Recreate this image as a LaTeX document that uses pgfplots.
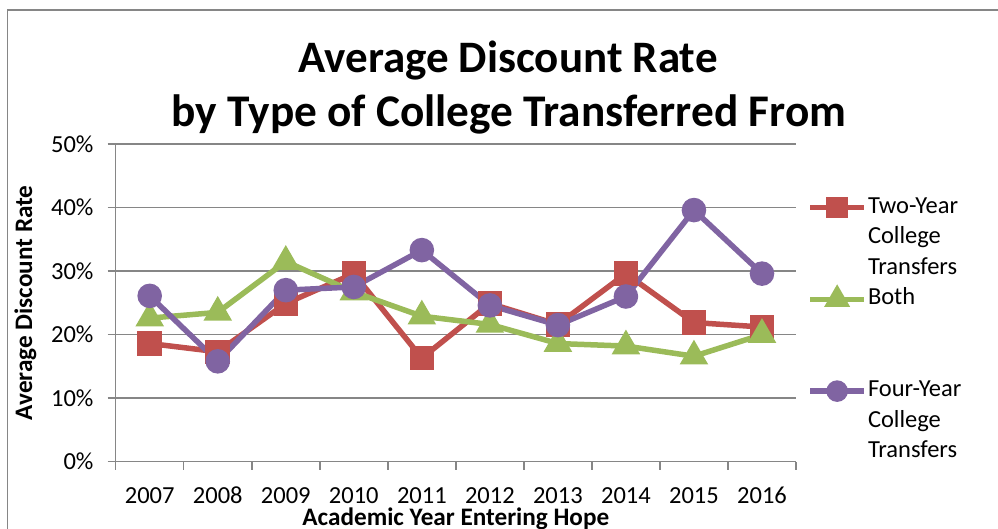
\documentclass[border=0pt]{standalone}
\usepackage{fontspec}
\setmainfont{Carlito}
\usepackage{pgfplots}
\usepackage{pgfplotstable}
\pgfplotsset{compat=1.18}
\definecolor{cred}{HTML}{C0504D}
\definecolor{cgreen}{HTML}{9BBB59}
\definecolor{cpurple}{HTML}{8064A2}
\definecolor{gridgray}{HTML}{868686}
\pgfplotstableread{
x two both four
1 18.6 22.6 26.1
2 17.3 23.5 15.8
3 24.9 31.5 27.0
4 29.6 26.7 27.5
5 16.3 22.9 33.3
6 24.9 21.6 24.6
7 21.6 18.6 21.5
8 29.6 18.2 26.0
9 21.9 16.6 39.6
10 21.2 20.0 29.6
}\datatable
\begin{document}
\begin{tikzpicture}
\useasboundingbox (0bp,0bp) rectangle (998bp,-529bp);
\draw[gridgray, line width=1.5bp] (7.3bp,-560bp) |- (1020bp,-10bp);
\begin{axis}[
  at={(115.7bp,-461.7bp)}, anchor=south west,
  scale only axis, width=680.3bp, height=317.7bp,
  xmin=0.5, xmax=10.5, ymin=0, ymax=50,
  clip=false,
  axis lines*=left,
  axis line style={draw=gridgray, line width=1.5bp},
  ymajorgrids, grid style={draw=gridgray, line width=1.5bp},
  tick style={draw=gridgray, line width=1.5bp},
  tick align=outside, major tick length=8bp,
  xtick={0.5,1.5,...,10.5},
  x tick label as interval,
  xticklabels={2007,2008,2009,2010,2011,2012,2013,2014,2015,2016},
  ytick={0,10,20,30,40,50},
  yticklabels={0\%,10\%,20\%,30\%,40\%,50\%},
  /pgf/number format/assume math mode=true,
  ticklabel style={font=\fontsize{24.5bp}{29bp}\selectfont},
  yticklabel style={inner sep=0pt, xshift=-14bp},
  xticklabel style={inner sep=0pt, anchor=base, yshift=-33.3bp},
  xlabel={Academic Year Entering Hope},
  ylabel={Average Discount Rate},
  every axis x label/.style={at={(axis description cs:0.5,-0.2014)}, anchor=base, inner sep=0pt, font=\fontsize{25.2bp}{29bp}\selectfont\bfseries},
  every axis y label/.style={at={(axis description cs:-0.1230,0.5)}, rotate=90, anchor=base, inner sep=0pt, font=\fontsize{25.2bp}{29bp}\selectfont\bfseries},
  legend cell align=left,
  legend style={draw=none, fill=none, inner sep=0pt, outer sep=0pt,
    at={(axis description cs:1.0172,0.8363)}, anchor=north west,
    row sep=7.6bp, column sep=1.5bp,
    font=\fontsize{24.5bp}{29bp}\selectfont,
    nodes={inner sep=0pt, text height=17bp, text depth=6bp}},
  legend image code/.code={\draw[mark repeat=2,mark phase=2,#1] plot coordinates {(0bp,0bp)(26.7bp,0bp)(53.3bp,0bp)};},
]
\addplot[cred, line width=5.5bp, mark=square*, mark size=9.5bp, mark options={solid}, forget plot] table[x=x,y=two] {\datatable};
\addplot[cgreen, line width=5.5bp, mark=triangle*, mark size=11bp, mark options={solid}, forget plot] table[x=x,y=both] {\datatable};
\addplot[cpurple, line width=5.5bp, mark=*, mark size=9.5bp, mark options={solid}, forget plot] table[x=x,y=four] {\datatable};
\addlegendimage{cred, line width=5.5bp, mark=square*, mark size=8bp}
\addlegendentry{Two-Year}
\addlegendimage{legend image code/.code={}}
\addlegendentry{College}
\addlegendimage{legend image code/.code={}}
\addlegendentry{Transfers}
\addlegendimage{cgreen, line width=5.5bp, mark=triangle*, mark size=9.5bp}
\addlegendentry{Both}
\addlegendimage{legend image code/.code={}}
\addlegendentry{\strut}
\addlegendimage{legend image code/.code={}}
\addlegendentry{\strut}
\addlegendimage{cpurple, line width=5.5bp, mark=*, mark size=8bp}
\addlegendentry{Four-Year}
\addlegendimage{legend image code/.code={}}
\addlegendentry{College}
\addlegendimage{legend image code/.code={}}
\addlegendentry{Transfers}
\end{axis}
\node[anchor=base, inner sep=0pt, font=\fontsize{45bp}{54bp}\selectfont\bfseries] at (508bp,-72.3bp) {Average Discount Rate};
\node[anchor=base, inner sep=0pt, font=\fontsize{45.3bp}{54bp}\selectfont\bfseries] at (509bp,-126.7bp) {by Type of College Transferred From};
\end{tikzpicture}
\end{document}
